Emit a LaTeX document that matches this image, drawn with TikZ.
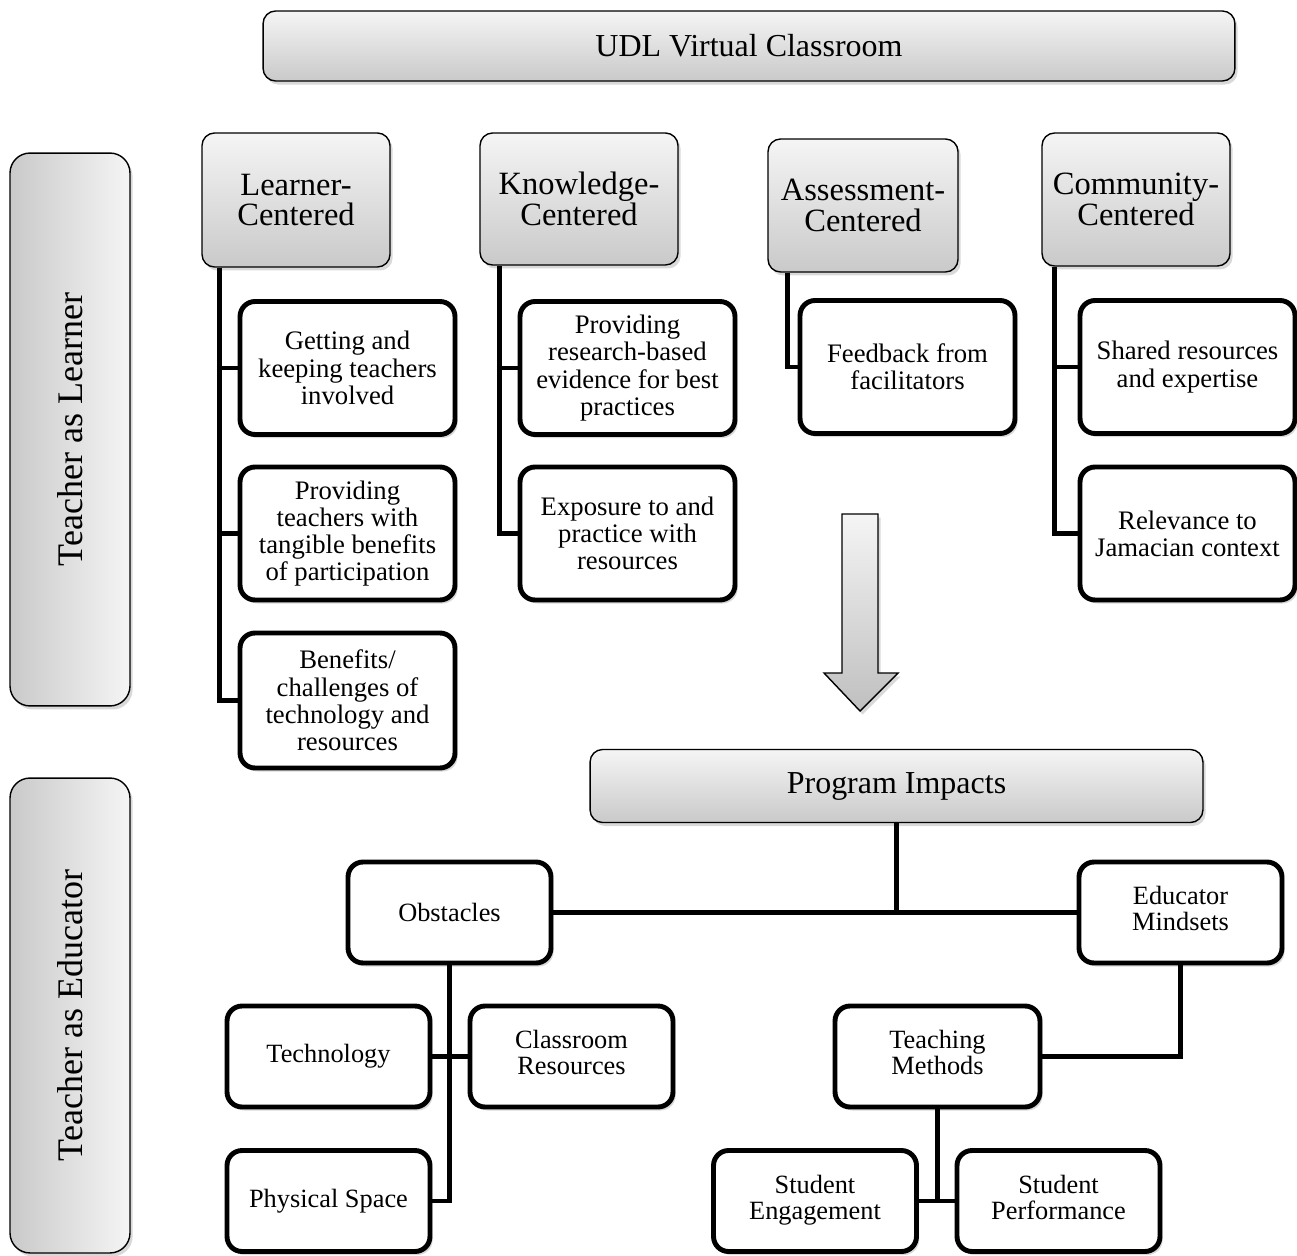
\documentclass[tikz,border=0pt]{standalone}
\usepackage{fontspec}
\setmainfont{Liberation Serif}
\usetikzlibrary{calc,shadows}

\begin{document}
\begin{tikzpicture}[x=0.02cm,y=-0.02cm,
    softshadow/.style={drop shadow={opacity=0.3,shadow xshift=1.5pt,shadow yshift=-2pt}},
    head/.style={draw, line width=0.8pt, rounded corners=0.25cm, top color=white!96!black,
        bottom color=white!79!black, softshadow, align=center, inner sep=0pt},
    side/.style={draw, line width=0.8pt, rounded corners=0.4cm, rotate=90, inner sep=0pt,
        left color=white!79!black, right color=white!96!black, softshadow,
        font=\fontsize{20.5}{21}\selectfont},
    item/.style={draw, line width=2.8pt, rounded corners=0.3cm, fill=white, align=center,
        softshadow, inner sep=0pt},
    link/.style={line width=2.8pt}]
\useasboundingbox (0,0) rectangle (1297,1256);

% top row
\node[head, minimum width=19.44cm, minimum height=1.4cm, font=\fontsize{18.2}{20}\selectfont]
    (udl) at (749,46) {UDL Virtual Classroom};
\node[side, minimum width=11.06cm, minimum height=2.4cm] (tal) at (70,429.5) {Teacher as Learner};
\node[side, minimum width=9.5cm, minimum height=2.4cm] (tae) at (70,1015.5) {Teacher as Educator};

\begin{scope}[every node/.append style={font=\fontsize{18.5}{17.5}\selectfont}]
\node[head, minimum width=3.76cm, minimum height=2.68cm] (lc) at (296,200) {Learner-\\Centered};
\node[head, minimum width=3.96cm, minimum height=2.64cm] (kc) at (579,199) {Knowledge-\\Centered};
\node[head, minimum width=3.8cm, minimum height=2.66cm] (ac) at (863,205.5) {Assessment-\\Centered};
\node[head, minimum width=3.76cm, minimum height=2.66cm] (cc) at (1136,199.5) {Community-\\Centered};
\end{scope}

\begin{scope}[every node/.append style={font=\fontsize{15.2}{15.5}\selectfont,
        minimum width=4.3cm, minimum height=2.66cm}]
\node[item] (l1) at (347.5,368) {Getting and\\keeping teachers\\involved};
\node[item] (l2) at (347.5,533.5) {Providing\\teachers with\\tangible benefits\\of participation};
\node[item, minimum height=2.7cm] (l3) at (347.5,700.5) {Benefits/\\challenges of\\technology and\\resources};
\node[item] (k1) at (627.5,368) {Providing\\research-based\\evidence for best\\practices};
\node[item] (k2) at (627.5,533.5) {Exposure to and\\practice with\\resources};
\node[item] (a1) at (907.5,367) {Feedback from\\facilitators};
\node[item] (c1) at (1187.5,367) {Shared resources\\and expertise};
\node[item] (c2) at (1187.5,533.5) {Relevance to\\Jamacian context};
\end{scope}

\draw[link] ($(lc.south west)+(18,0)$) |- (l3.west);
\draw[link] ($(lc.south west)+(18,0)$) |- (l1.west);
\draw[link] ($(lc.south west)+(18,0)$) |- (l2.west);
\draw[link] ($(kc.south west)+(20,0)$) |- (k2.west);
\draw[link] ($(kc.south west)+(20,0)$) |- (k1.west);
\draw[link] ($(ac.south west)+(20,0)$) |- (a1.west);
\draw[link] ($(cc.south west)+(13,0)$) |- (c2.west);
\draw[link] ($(cc.south west)+(13,0)$) |- (c1.west);

% big arrow
\draw[line width=0.8pt, top color=white!96!black, bottom color=white!75!black, softshadow]
    (842,514) -- (878,514) -- (878,673) -- (898,673) -- (860,711) -- (824,673) -- (842,673) -- cycle;

% bottom part
\node[head, minimum width=12.26cm, minimum height=1.46cm, font=\fontsize{18.2}{20}\selectfont]
    (pi) at (896.5,786) {Program Impacts};

\begin{scope}[every node/.append style={font=\fontsize{15}{14.8}\selectfont,
        minimum width=4.06cm, minimum height=2.02cm}]
\node[item] (ob) at (449.5,912.5) {Obstacles};
\node[item] (em) at (1180.5,912.5) {Educator\\Mindsets\strut};
\node[item] (te) at (328.5,1056.5) {Technology};
\node[item] (cr) at (571.5,1056.5) {Classroom\\Resources\strut};
\node[item] (ps) at (328.5,1201) {Physical Space};
\node[item, minimum width=4.1cm] (tm) at (937.5,1056.5) {Teaching\\Methods\strut};
\node[item] (se) at (815,1201) {Student\\Engagement\strut};
\node[item] (sp) at (1058.5,1201) {Student\\Performance\strut};
\end{scope}

\draw[link] (ob.east) -- (em.west);
\draw[link] (pi.south) -- (pi.south |- ob.east);
\draw[link] (ob.south) |- (ps.east);
\draw[link] (te.east) -- (cr.west);
\draw[link] (em.south) |- (tm.east);
\draw[link] (tm.south) -- (tm.south |- se.east);
\draw[link] (se.east) -- (sp.west);
\end{tikzpicture}
\end{document}
